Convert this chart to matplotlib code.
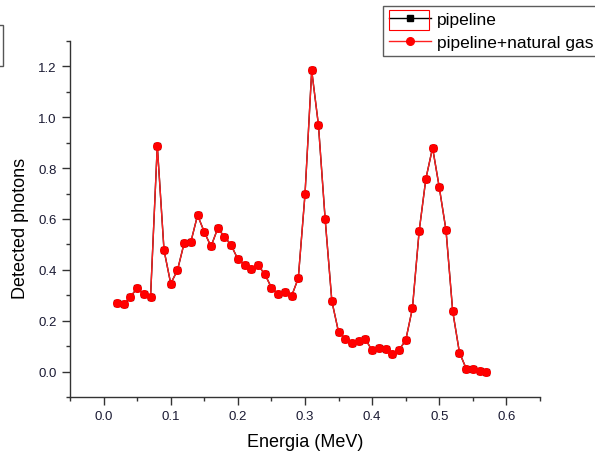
import matplotlib
matplotlib.use('Agg')
import matplotlib.pyplot as plt
from matplotlib.patches import Rectangle
from matplotlib.ticker import MultipleLocator

# energy channels (MeV)
energy = [0.02, 0.03, 0.04, 0.05, 0.06, 0.07, 0.08, 0.09, 0.10, 0.11,
          0.12, 0.13, 0.14, 0.15, 0.16, 0.17, 0.18, 0.19, 0.20, 0.21,
          0.22, 0.23, 0.24, 0.25, 0.26, 0.27, 0.28, 0.29, 0.30, 0.31,
          0.32, 0.33, 0.34, 0.35, 0.36, 0.37, 0.38, 0.39, 0.40, 0.41,
          0.42, 0.43, 0.44, 0.45, 0.46, 0.47, 0.48, 0.49, 0.50, 0.51,
          0.52, 0.53, 0.54, 0.55, 0.56, 0.57]

# detected photons, pipeline only
pipeline = [0.269, 0.264, 0.295, 0.327, 0.304, 0.295, 0.889, 0.478, 0.346, 0.398,
            0.505, 0.510, 0.615, 0.549, 0.492, 0.563, 0.531, 0.497, 0.442, 0.420,
            0.405, 0.418, 0.384, 0.330, 0.304, 0.311, 0.297, 0.367, 0.697, 1.184,
            0.970, 0.600, 0.277, 0.155, 0.130, 0.114, 0.122, 0.127, 0.083, 0.094,
            0.090, 0.068, 0.085, 0.123, 0.249, 0.552, 0.758, 0.880, 0.724, 0.556,
            0.237, 0.075, 0.012, 0.012, 0.004, 0.000]

# detected photons, pipeline + natural gas
pipeline_gas = [0.269, 0.264, 0.295, 0.327, 0.304, 0.295, 0.889, 0.478, 0.346, 0.398,
                0.505, 0.510, 0.615, 0.549, 0.492, 0.563, 0.531, 0.497, 0.442, 0.420,
                0.405, 0.418, 0.384, 0.330, 0.304, 0.311, 0.297, 0.367, 0.697, 1.184,
                0.970, 0.600, 0.277, 0.155, 0.130, 0.114, 0.122, 0.127, 0.083, 0.094,
                0.090, 0.068, 0.085, 0.123, 0.249, 0.552, 0.758, 0.880, 0.724, 0.556,
                0.237, 0.075, 0.012, 0.012, 0.004, 0.000]

plt.rcParams['font.family'] = ['Liberation Sans', 'DejaVu Sans']

fig = plt.figure(figsize=(5.95, 4.52), dpi=100)
ax = fig.add_axes([70 / 595, 1 - 398 / 452, 470 / 595, 356 / 452])

ax.plot(energy, pipeline, color='black', lw=1, marker='s', ms=5,
        mfc='black', mec='black', label='pipeline')
ax.plot(energy, pipeline_gas, color='#ff2020', lw=1, marker='o', ms=5.5,
        mfc='red', mec='red', label='pipeline+natural gas')

ax.set_xlim(-0.05, 0.65)
ax.set_ylim(-0.1, 1.3)
ax.xaxis.set_minor_locator(MultipleLocator(0.05))
ax.yaxis.set_minor_locator(MultipleLocator(0.1))
ax.set_xticks([0.0, 0.1, 0.2, 0.3, 0.4, 0.5, 0.6])
ax.set_xticklabels(['0.0', '0.1', '0.2', '0.3', '0.4', '0.5', '0.6'])
ax.set_yticks([0.0, 0.2, 0.4, 0.6, 0.8, 1.0, 1.2])
ax.set_yticklabels(['0.0', '0.2', '0.4', '0.6', '0.8', '1.0', '1.2'])

for s in ['top', 'right']:
    ax.spines[s].set_visible(False)
for s in ['left', 'bottom']:
    ax.spines[s].set_color('#333333')
    ax.spines[s].set_linewidth(1)

ax.tick_params(which='major', length=6, width=1, color='#333333',
               labelsize=9.5, labelcolor='#1a1a33', pad=3.5)
ax.tick_params(which='minor', length=3, width=1, color='#333333')

ax.set_xlabel('Energia (MeV)', fontsize=13, labelpad=8)
ax.set_ylabel('Detected photons', fontsize=13)
ax.yaxis.set_label_coords(-0.088, 0.475)

leg = ax.legend(loc='upper left', bbox_to_anchor=(383 / 595, 1 - 7 / 452),
                bbox_transform=fig.transFigure, frameon=True, fancybox=False,
                fontsize=12.5, handlelength=2.4, handletextpad=0.35,
                borderpad=0.35, labelspacing=0.45, borderaxespad=0)
leg.get_frame().set_edgecolor('#333333')
leg.get_frame().set_linewidth(1)

# selection box around first legend handle and clipped box at left edge
fig.patches.append(Rectangle((389 / 595, 1 - 31 / 452), 40 / 595, 20 / 452,
                             transform=fig.transFigure, fill=False,
                             edgecolor='red', lw=0.8))
fig.patches.append(Rectangle((-10 / 595, 1 - 66.5 / 452), 12.5 / 595, 41 / 452,
                             transform=fig.transFigure, fill=False,
                             edgecolor='#555555', lw=1))

fig.savefig('out.png', dpi=100)
